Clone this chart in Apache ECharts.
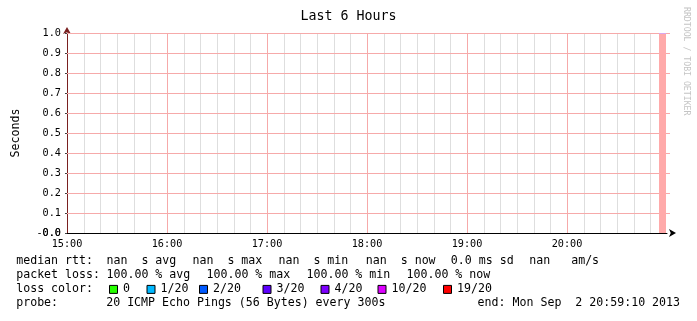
<!DOCTYPE html>
<html>
<head>
<meta charset="utf-8">
<script src="https://cdn.jsdelivr.net/npm/echarts@6/dist/echarts.min.js"></script>
<style>
html,body{margin:0;padding:0;background:#fff;}
#chart{width:697px;height:321px;}
</style>
</head>
<body>
<div id="chart"></div>
<script>
// ---------- data ----------
const chartTitle = 'Last 6 Hours';
const yAxisName = 'Seconds';
const xTickLabels = ['15:00', '16:00', '17:00', '18:00', '19:00', '20:00', '21:00'];
const xMinorPerMajor = 6; // 10-minute minor grid
const yTickLabels = ['0.0', '0.1', '0.2', '0.3', '0.4', '0.5', '0.6', '0.7', '0.8', '0.9', '1.0'];
const yZeroOverlayLabel = '-0.0';
const xRange = ['15:00', '21:00'];
// loss shading
const lossStart = ['20:55:00'];
const lossEnd = ['20:59:10'];
const lossValue = [1.0];
// legend text
const rowMedian = ['median rtt:', 'nan  s avg', 'nan  s max', 'nan  s min', 'nan  s now', '0.0 ms sd', 'nan   am/s'];
const rowLoss = ['packet loss:', '100.00 % avg', '100.00 % max', '100.00 % min', '100.00 % now'];
const lossColorTitle = 'loss color:';
const lossLabels = ['0', '1/20', '2/20', '3/20', '4/20', '10/20', '19/20'];
const lossColors = ['#26ff00', '#00b8ff', '#0059ff', '#5e00ff', '#7e00ff', '#dd00ff', '#ff0000'];
const rowProbe = ['probe:', '20 ICMP Echo Pings (56 Bytes) every 300s', 'end: Mon Sep  2 20:59:10 2013'];
const watermark = 'RRDTOOL / TOBI OETIKER';

// ---------- helpers ----------
function toMin(s) {
  const p = s.split(':').map(Number);
  return p[0] * 60 + (p[1] || 0) + (p[2] || 0) / 60;
}
const FONT = '"DejaVu Sans Mono", monospace';
const xMin = toMin(xRange[0]);
const xMax = toMin(xRange[1]);

// grid lines built from the tick labels
const xMajorVals = xTickLabels.map(toMin);
const gridItems = [];
for (let i = 0; i < xMajorVals.length - 1; i++) {
  const a = xMajorVals[i], b = xMajorVals[i + 1];
  if (i > 0) gridItems.push([0, a]);
  for (let k = 1; k < xMinorPerMajor; k++) gridItems.push([1, a + (b - a) * k / xMinorPerMajor]);
}
yTickLabels.forEach((t, i) => { if (i > 0) gridItems.push([2, parseFloat(t)]); });

// ---------- layout (positions only) ----------
const rowY = [261, 275, 289, 303];
const rowMedianX = [16.2, 106.5, 192.5, 278.5, 365.8, 450.8, 529.3];
const rowLossX = [16.2, 106.5, 206.5, 306.5, 406.5];
const lossBoxX = [109.5, 147, 199.5, 263, 321, 378, 443.5];
const rowProbeX = [16.2, 106.2, 477.6];

const graphics = [];
function addText(t, x, y) {
  graphics.push({
    type: 'text', x: x, y: y, silent: true,
    style: { text: t, font: '11.6px ' + FONT, fill: '#000', align: 'left', verticalAlign: 'middle' }
  });
}
rowMedian.forEach((t, i) => addText(t, rowMedianX[i], rowY[0]));
rowLoss.forEach((t, i) => addText(t, rowLossX[i], rowY[1]));
addText(lossColorTitle, 16.2, rowY[2]);
lossLabels.forEach((t, i) => {
  graphics.push({
    type: 'rect', silent: true,
    shape: { x: lossBoxX[i], y: rowY[2] - 3.6, width: 8, height: 8 },
    style: { fill: lossColors[i], stroke: '#000', lineWidth: 1 }
  });
  addText(t, lossBoxX[i] + 13.6, rowY[2]);
});
rowProbe.forEach((t, i) => addText(t, rowProbeX[i], rowY[3]));
graphics.push({
  type: 'text', x: 686, y: 7, rotation: -Math.PI / 2, silent: true,
  style: { text: watermark, font: '8.2px ' + FONT, fill: '#c4c4c4', align: 'left', verticalAlign: 'middle' }
});

const lossData = lossStart.map((s, i) => [toMin(s), toMin(lossEnd[i]), lossValue[i]]);

const GRID_MAJOR = '#f6aaaa';
const GRID_MINOR = '#dedede';

const chart = echarts.init(document.getElementById('chart'), null, { renderer: 'canvas' });
chart.setOption({
  animation: false,
  backgroundColor: '#fff',
  title: {
    text: chartTitle, left: 'center', top: 10, padding: 0,
    textStyle: { fontFamily: FONT, fontSize: 13.3, fontWeight: 'normal', color: '#000' }
  },
  grid: { left: 67, right: 30, top: 33, bottom: 88, containLabel: false, outerBoundsMode: 'none' },
  xAxis: {
    type: 'value', min: xMin, max: xMax, interval: 60,
    axisLine: {
      show: true, onZero: false,
      lineStyle: { color: '#000', width: 1 },
      symbol: ['none', 'arrow'], symbolSize: [6, 7], symbolOffset: [0, 9]
    },
    axisTick: { show: false },
    axisLabel: {
      show: true, margin: 6, color: '#000', fontFamily: FONT, fontSize: 10.2,
      showMaxLabel: false, hideOverlap: false,
      formatter: v => xTickLabels[Math.round((v - xMin) / 60)] || ''
    },
    splitLine: { show: false },
    minorSplitLine: { show: false }
  },
  yAxis: [{
    type: 'value', min: 0, max: 1, interval: 0.1,
    name: yAxisName, nameLocation: 'middle', nameGap: 45, nameRotate: 90,
    nameTextStyle: { fontFamily: FONT, fontSize: 11.6, color: '#000' },
    axisLine: {
      show: true, onZero: false,
      lineStyle: { color: '#7a2020', width: 1 },
      symbol: ['none', 'arrow'], symbolSize: [6, 7], symbolOffset: [0, 6]
    },
    axisTick: { show: true, length: 2, lineStyle: { color: '#444' } },
    axisLabel: {
      margin: 6, color: '#000', fontFamily: FONT, fontSize: 10.2, hideOverlap: false,
      formatter: v => yTickLabels[Math.round(v * 10)]
    },
    splitLine: { show: false }
  }, {
    type: 'value', min: 0, max: 1, interval: 0.1, position: 'left', offset: 0,
    axisLine: { show: false }, axisTick: { show: false }, splitLine: { show: false },
    axisLabel: {
      margin: 6, color: '#000', fontFamily: FONT, fontSize: 10.2, hideOverlap: false,
      formatter: v => (Math.round(v * 10) === 0 ? yZeroOverlayLabel : '')
    }
  }],
  series: [{
    type: 'custom',
    silent: true,
    z: 1,
    data: gridItems,
    renderItem: function (params, api) {
      const cs = params.coordSys;
      const kind = api.value(0);
      const v = api.value(1);
      if (kind === 2) {
        const py = Math.round(api.coord([xMin, v])[1]);
        return {
          type: 'rect',
          shape: { x: cs.x, y: py, width: cs.width + 3, height: 1 },
          style: { fill: GRID_MAJOR }
        };
      }
      const px = Math.round(api.coord([v, 0])[0]);
      return {
        type: 'rect',
        shape: { x: px, y: cs.y, width: 1, height: cs.height },
        style: { fill: kind === 0 ? GRID_MAJOR : GRID_MINOR }
      };
    }
  }, {
    type: 'custom',
    silent: true,
    z: 2,
    data: lossData,
    encode: { x: [0, 1], y: 2 },
    renderItem: function (params, api) {
      const p0 = api.coord([api.value(0), api.value(2)]);
      const p1 = api.coord([api.value(1), 0]);
      return {
        type: 'group',
        children: [{
          type: 'rect',
          shape: { x: Math.round(p0[0]), y: p0[1], width: Math.round(p1[0]) - Math.round(p0[0]), height: p1[1] - p0[1] },
          style: { fill: '#ffaaaa' }
        }, {
          type: 'rect',
          shape: { x: Math.round(p0[0]), y: p0[1], width: Math.round(p1[0]) - Math.round(p0[0]), height: 1 },
          style: { fill: '#d8a8ee' }
        }]
      };
    }
  }],
  graphic: graphics
});
</script>
</body>
</html>
